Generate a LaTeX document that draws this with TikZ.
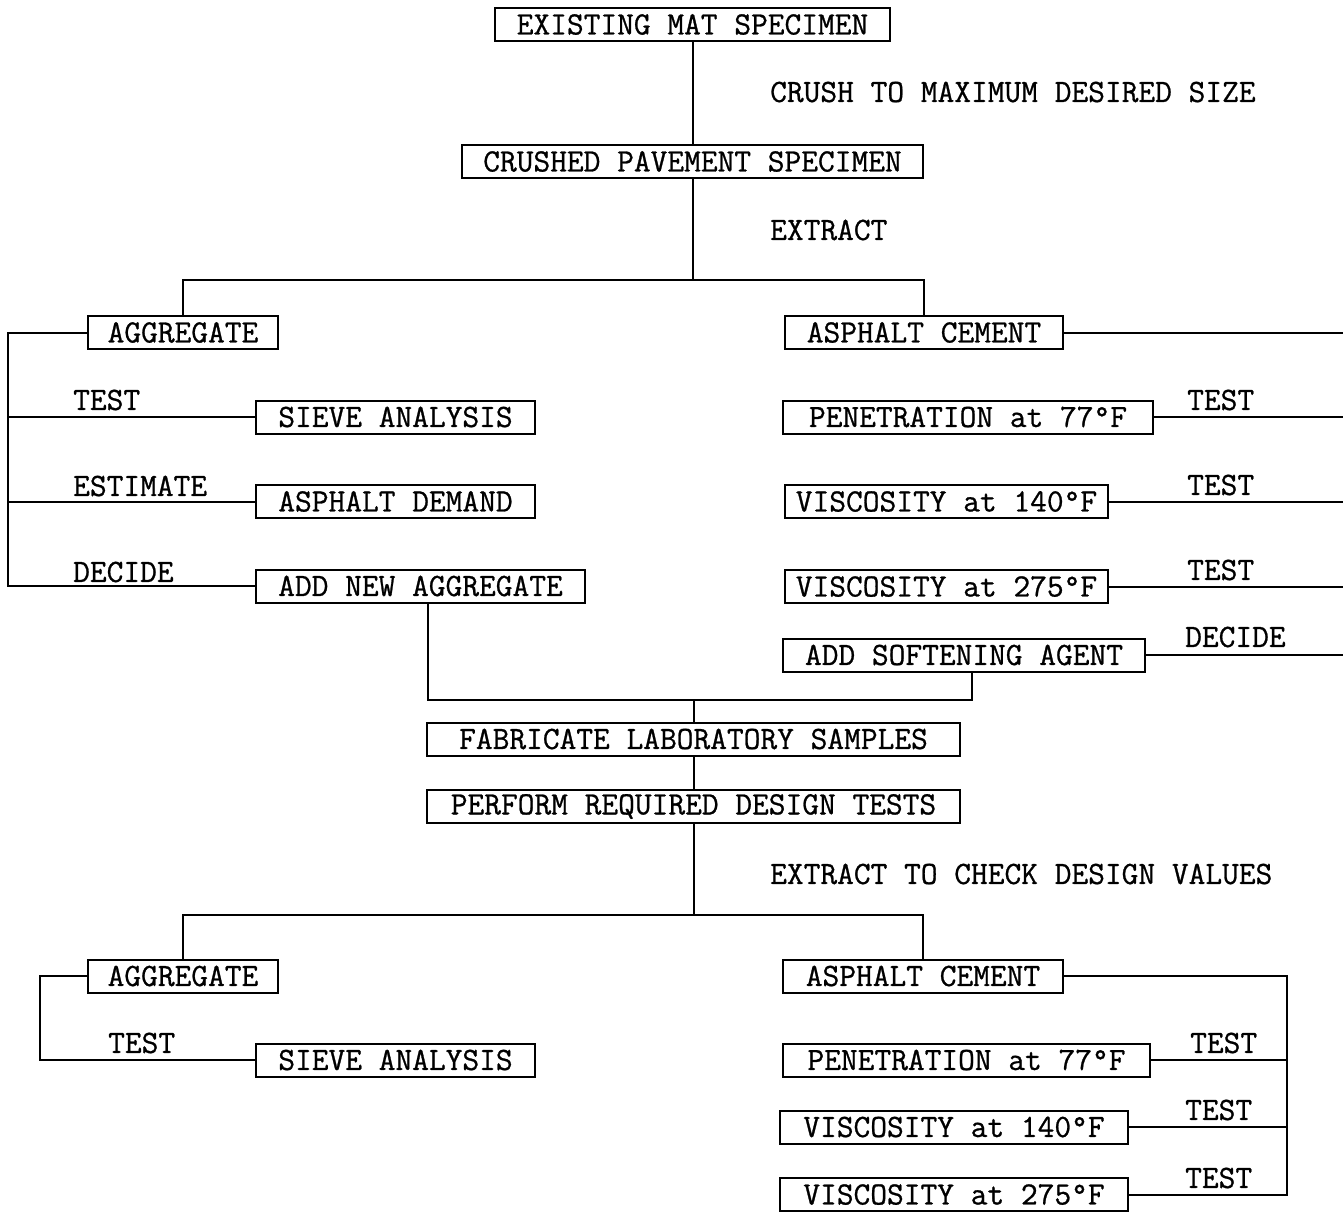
\documentclass[tikz,border=0pt]{standalone}
\usepackage{fontspec}
\newfontfamily\twfont{Latin Modern Mono}[FakeBold=0.8]
\begin{document}
\begin{tikzpicture}[x=1pt,y=-1pt,
  tw/.style={font=\fontsize{32.5}{34}\twfont},
  box/.style={tw,draw,line width=2pt,inner sep=0pt,minimum height=33pt},
  lbl/.style={tw,anchor=west,inner sep=0pt},
  conn/.style={line width=2pt}]
\useasboundingbox[fill=white] (0,0) rectangle (1343,1213);
% boxes
\node[box,minimum width=395pt] (ems) at (692.5,24.5) {EXISTING MAT SPECIMEN};
\node[box,minimum width=461pt] (cps) at (692.5,161.5) {CRUSHED PAVEMENT SPECIMEN};
\node[box,minimum width=190pt] (agg1) at (183,332.5) {AGGREGATE};
\node[box,minimum width=278pt] (ac1) at (924,332.5) {ASPHALT CEMENT};
\node[box,minimum width=279pt] (sieve1) at (395.5,417) {SIEVE ANALYSIS};
\node[box,minimum width=279pt] (demand) at (395.5,501.5) {ASPHALT DEMAND};
\node[box,minimum width=329pt] (addagg) at (420.5,586) {ADD NEW AGGREGATE};
\node[box,minimum width=370pt] (pen1) at (968,417) {PENETRATION at 77°F};
\node[box,minimum width=323pt] (v140a) at (946.5,501.5) {VISCOSITY at 140°F};
\node[box,minimum width=323pt] (v275a) at (946.5,586.5) {VISCOSITY at 275°F};
\node[box,minimum width=362pt] (soft) at (964,655) {ADD SOFTENING AGENT};
\node[box,minimum width=533pt] (fab) at (693.5,739) {FABRICATE LABORATORY SAMPLES};
\node[box,minimum width=533pt] (perf) at (693.5,806.5) {PERFORM REQUIRED DESIGN TESTS};
\node[box,minimum width=190pt] (agg2) at (183,976) {AGGREGATE};
\node[box,minimum width=279pt] (sieve2) at (395.5,1060) {SIEVE ANALYSIS};
\node[box,minimum width=280pt] (ac2) at (923,976) {ASPHALT CEMENT};
\node[box,minimum width=367pt] (pen2) at (966.5,1060) {PENETRATION at 77°F};
\node[box,minimum width=348pt] (v140b) at (954,1127) {VISCOSITY at 140°F};
\node[box,minimum width=348pt] (v275b) at (954,1194.5) {VISCOSITY at 275°F};
% labels
\node[lbl] (lcrush) at (770,92) {CRUSH TO MAXIMUM DESIRED SIZE};
\node[lbl] (lextr) at (770,230) {EXTRACT};
\node[lbl] (lcheck) at (770,874) {EXTRACT TO CHECK DESIGN VALUES};
\node[lbl] (lt1) at (73,400) {TEST};
\node[lbl] (lest) at (73,486) {ESTIMATE};
\node[lbl] (ldec1) at (73,572) {DECIDE};
\node[lbl] (rt1) at (1187,400) {TEST};
\node[lbl] (rt2) at (1187,485) {TEST};
\node[lbl] (rt3) at (1187,570) {TEST};
\node[lbl] (rdec) at (1185,637) {DECIDE};
\node[lbl] (lt2) at (108,1043) {TEST};
\node[lbl] (rt4) at (1190,1043) {TEST};
\node[lbl] (rt5) at (1185,1110) {TEST};
\node[lbl] (rt6) at (1185,1178) {TEST};
% coordinates
\coordinate (j1) at (692.5,280);
\coordinate (lb) at (8,0);
\coordinate (rb) at (1343,0);
\coordinate (m1) at (428,700);
\coordinate (m2) at (972,700);
\coordinate (jm) at (693.5,700);
\coordinate (jb) at (693.5,915);
\coordinate (lb2) at (40,0);
\coordinate (rb2) at (1287,0);
% connectors
\draw[conn] (ems) -- (cps);
\draw[conn] (cps) -- (j1);
\draw[conn] (agg1.north) |- (j1) -| (ac1.north);
\draw[conn] (agg1.west) -- (agg1.west -| lb) -- (addagg.west -| lb) -- (addagg.west);
\draw[conn] (sieve1.west -| lb) -- (sieve1.west);
\draw[conn] (demand.west -| lb) -- (demand.west);
\draw[conn] (ac1.east) -- (ac1.east -| rb);
\draw[conn] (pen1.east) -- (pen1.east -| rb);
\draw[conn] (v140a.east) -- (v140a.east -| rb);
\draw[conn] (v275a.east) -- (v275a.east -| rb);
\draw[conn] (soft.east) -- (soft.east -| rb);
\draw[conn] (addagg.south -| m1) -- (m1) -- (m2) -- (soft.south -| m2);
\draw[conn] (jm) -- (fab);
\draw[conn] (fab) -- (perf);
\draw[conn] (perf) -- (jb);
\draw[conn] (agg2.north) |- (jb) -| (ac2.north);
\draw[conn] (agg2.west) -- (agg2.west -| lb2) -- (sieve2.west -| lb2) -- (sieve2.west);
\draw[conn] (ac2.east) -- (ac2.east -| rb2) -- (v275b.east -| rb2) -- (v275b.east);
\draw[conn] (pen2.east) -- (pen2.east -| rb2);
\draw[conn] (v140b.east) -- (v140b.east -| rb2);
\end{tikzpicture}
\end{document}
